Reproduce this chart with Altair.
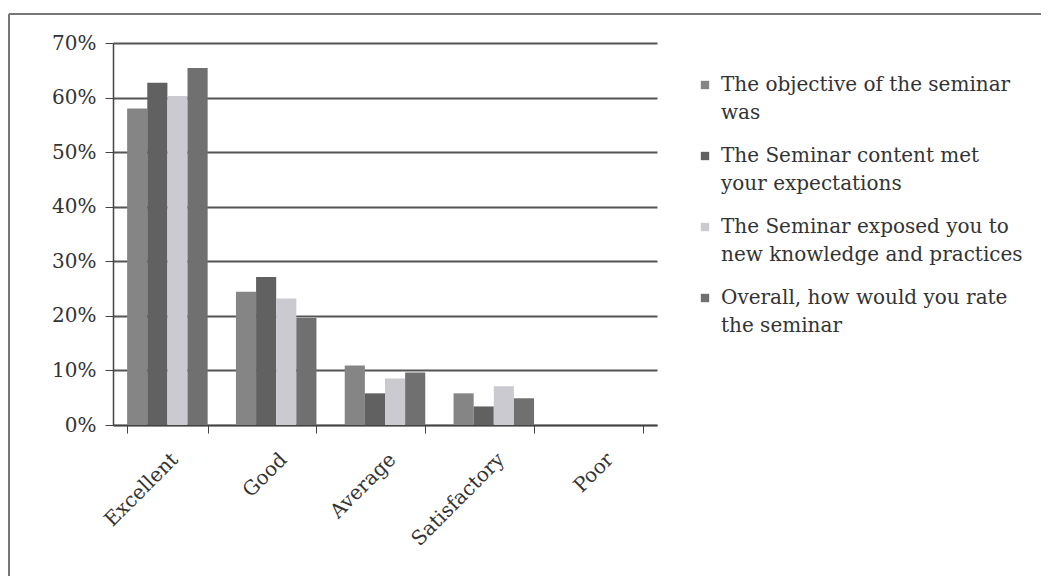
import altair as alt
import pandas as pd

categories = ["Excellent", "Good", "Average", "Satisfactory", "Poor"]
series = [
    "The objective of the seminar was",
    "The Seminar content  met your expectations",
    "The Seminar exposed you to new knowledge and practices",
    "Overall, how would you rate the seminar",
]
legend_lines = [
    ["The objective of the seminar", "was"],
    ["The Seminar content  met", "your expectations"],
    ["The Seminar exposed you to", "new knowledge and practices"],
    ["Overall, how would you rate", "the seminar"],
]
s1 = [0.58, 0.244, 0.109, 0.058, 0.0]
s2 = [0.627, 0.271, 0.058, 0.034, 0.0]
s3 = [0.603, 0.232, 0.085, 0.071, 0.0]
s4 = [0.654, 0.196, 0.096, 0.049, 0.0]
colors = ["#858585", "#616161", "#cacad0", "#707070"]

rows = []
for name, vals in zip(series, [s1, s2, s3, s4]):
    for c, v in zip(categories, vals):
        rows.append({"Rating": c, "Series": name, "Value": v})
df = pd.DataFrame(rows)

label_expr = ""
for name, lines in zip(series, legend_lines):
    arr = "[" + ", ".join("'" + l + "'" for l in lines) + "]"
    label_expr += f"datum.label == '{name}' ? {arr} : "
label_expr += "datum.label"

FONT = "DejaVu Serif"

bars = alt.Chart(df).mark_bar().encode(
    x=alt.X("Rating:N", sort=categories, title=None,
            scale=alt.Scale(paddingInner=0.26, paddingOuter=0.13),
            axis=alt.Axis(labelAngle=-45, tickBand="extent", tickSize=8,
                          domainColor="#444", domainWidth=1.5, tickColor="#444",
                          labelFont=FONT, labelFontSize=20, labelColor="#333",
                          labelPadding=16, grid=False)),
    xOffset=alt.XOffset("Series:N", sort=series),
    y=alt.Y("Value:Q", title=None,
            scale=alt.Scale(domain=[0, 0.7], nice=False),
            axis=alt.Axis(format=".0%", values=[0, 0.1, 0.2, 0.3, 0.4, 0.5, 0.6, 0.7],
                          grid=True, gridColor="#555", gridWidth=1.8,
                          domainColor="#444", domainWidth=1.5, tickColor="#444",
                          tickSize=8, labelFont=FONT, labelFontSize=20,
                          labelColor="#333", labelPadding=9)),
    color=alt.Color("Series:N", sort=series,
                    scale=alt.Scale(domain=series, range=colors),
                    legend=alt.Legend(title=None, orient="none", legendX=582, legendY=32,
                                      symbolType="square", symbolSize=70,
                                      symbolStrokeWidth=0,
                                      labelFont=FONT, labelFontSize=20,
                                      labelColor="#333", labelLimit=0,
                                      labelExpr=label_expr, labelBaseline="middle",
                                      rowPadding=23, labelOffset=6)),
)

top_edge = alt.Chart(df).mark_rule(stroke="#777", strokeWidth=1.5).encode(
    x=alt.value(-104), x2=alt.value(940), y=alt.value(-29)
)
left_edge = alt.Chart(df).mark_rule(stroke="#777", strokeWidth=1.5).encode(
    x=alt.value(-104), y=alt.value(-29), y2=alt.value(540)
)

chart = alt.layer(top_edge, left_edge, bars).properties(
    width=544, height=382,
    padding={"left": 105, "top": 35, "right": 384, "bottom": 151},
    autosize=alt.AutoSizeParams(type="none"),
).configure(
    background="white",
    style={"guide-label": {"lineHeight": 28}},
).configure_view(stroke=None)

chart.save("out.html", embed_options={"renderer": "svg", "actions": False})
